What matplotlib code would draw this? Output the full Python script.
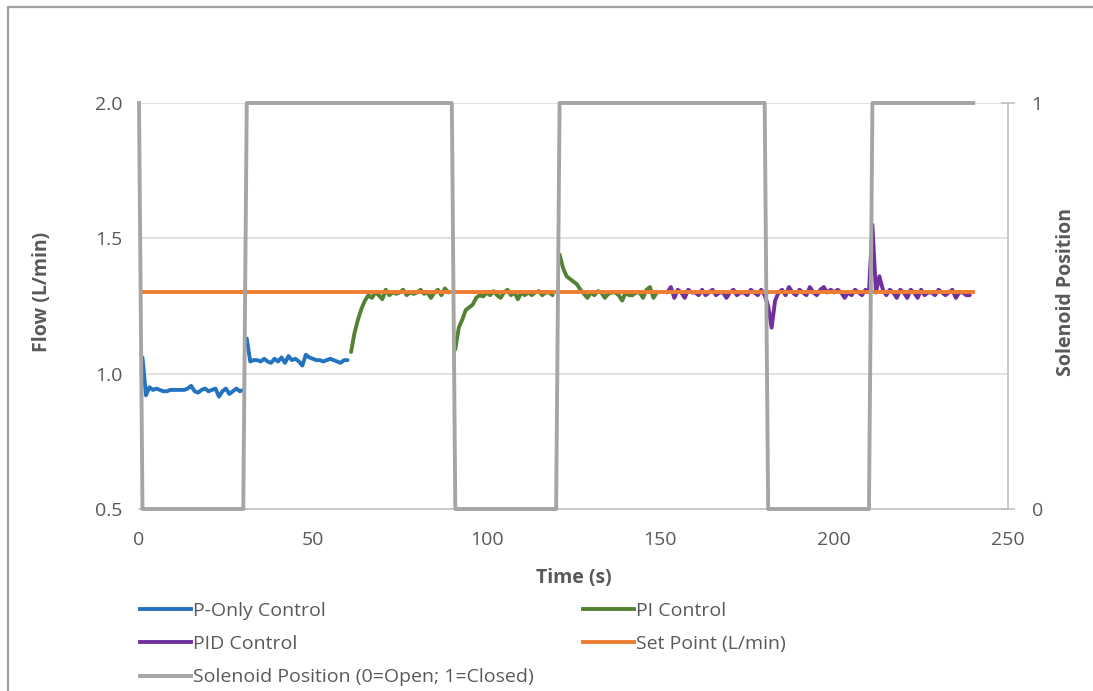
import numpy as np
import matplotlib
matplotlib.use("Agg")
import matplotlib.pyplot as plt
from matplotlib.lines import Line2D
from matplotlib.patches import Rectangle

plt.rcParams['font.family'] = ['Open Sans', 'DejaVu Sans']

# ---------------- data ----------------
p_time_1 = list(range(1, 31))
p_flow_1 = [1.06, 0.92, 0.95, 0.94, 0.945, 0.94, 0.935, 0.935, 0.94, 0.94,
            0.94, 0.94, 0.94, 0.945, 0.955, 0.935, 0.93, 0.94, 0.945, 0.935,
            0.94, 0.945, 0.915, 0.935, 0.945, 0.925, 0.935, 0.945, 0.935, 0.94]
p_time_2 = list(range(31, 61))
p_flow_2 = [1.13, 1.045, 1.05, 1.05, 1.045, 1.055, 1.045, 1.04, 1.055, 1.045,
            1.06, 1.04, 1.065, 1.05, 1.055, 1.045, 1.03, 1.07, 1.06, 1.055,
            1.05, 1.05, 1.045, 1.05, 1.055, 1.05, 1.045, 1.04, 1.05, 1.05]

pi_time_1 = list(range(61, 90))
pi_flow_1 = [1.08, 1.15, 1.20, 1.24, 1.27, 1.29, 1.28, 1.30, 1.29, 1.275,
             1.31, 1.29, 1.30, 1.295, 1.30, 1.31, 1.29, 1.30, 1.295, 1.30,
             1.31, 1.295, 1.30, 1.28, 1.30, 1.31, 1.29, 1.315, 1.30]
pi_time_2 = list(range(91, 120))
pi_flow_2 = [1.09, 1.17, 1.20, 1.235, 1.245, 1.255, 1.28, 1.29, 1.285, 1.30,
             1.29, 1.305, 1.29, 1.28, 1.30, 1.31, 1.29, 1.30, 1.275, 1.30,
             1.29, 1.30, 1.29, 1.30, 1.305, 1.29, 1.30, 1.30, 1.29]
pi_time_3 = list(range(121, 150))
pi_flow_3 = [1.44, 1.39, 1.36, 1.35, 1.34, 1.33, 1.31, 1.295, 1.28, 1.30,
             1.29, 1.305, 1.30, 1.28, 1.295, 1.30, 1.30, 1.29, 1.27, 1.30,
             1.29, 1.29, 1.30, 1.30, 1.28, 1.31, 1.32, 1.28, 1.30]

pid_time = list(range(152, 240))
pid_flow = [1.30, 1.32, 1.28, 1.31, 1.30, 1.28, 1.31, 1.30, 1.30, 1.29,
            1.31, 1.29, 1.30, 1.31, 1.29, 1.30, 1.30, 1.28, 1.30, 1.31,
            1.29, 1.30, 1.30, 1.29, 1.31, 1.30, 1.29, 1.31, 1.29, 1.25,
            1.17, 1.27, 1.30, 1.31, 1.29, 1.32, 1.30, 1.29, 1.31, 1.30,
            1.29, 1.32, 1.30, 1.29, 1.31, 1.32, 1.30, 1.31, 1.30, 1.31,
            1.30, 1.28, 1.30, 1.29, 1.31, 1.30, 1.29, 1.31, 1.30, 1.55,
            1.30, 1.36, 1.31, 1.29, 1.31, 1.30, 1.28, 1.31, 1.30, 1.28,
            1.31, 1.30, 1.28, 1.31, 1.29, 1.30, 1.30, 1.29, 1.31, 1.30,
            1.29, 1.30, 1.31, 1.28, 1.30, 1.30, 1.29, 1.29]

setpoint_time = [0, 240]
setpoint_flow = [1.3, 1.3]

solenoid_time = [0, 1, 30, 31, 90, 91, 120, 121, 180, 181, 210, 211, 240]
solenoid_pos = [1, 0, 0, 1, 1, 0, 0, 1, 1, 0, 0, 1, 1]

x_ticks = [0, 50, 100, 150, 200, 250]
y_ticks = [0.5, 1.0, 1.5, 2.0]
y2_ticks = [0, 1]

# ---------------- styling ----------------
C_BLUE = '#2473c0'
C_GREEN = '#548235'
C_PURPLE = '#7030a0'
C_ORANGE = '#ed7d31'
C_GRAY = '#a5a5a5'
TXT = '#595959'
LW = 2.8

W, H = 1093, 691
fig = plt.figure(figsize=(W / 100, H / 100), dpi=100)
ax = fig.add_axes([139 / W, 1 - 509 / H, 869 / W, 406 / H])

kw = dict(lw=LW, solid_joinstyle='round', solid_capstyle='round', zorder=3)
ax.plot(p_time_1, p_flow_1, color=C_BLUE, **kw)
ax.plot(p_time_2, p_flow_2, color=C_BLUE, **kw)
ax.plot(pi_time_1, pi_flow_1, color=C_GREEN, **kw)
ax.plot(pi_time_2, pi_flow_2, color=C_GREEN, **kw)
ax.plot(pi_time_3, pi_flow_3, color=C_GREEN, **kw)
ax.plot(pid_time, pid_flow, color=C_PURPLE, **kw)
ax.plot(setpoint_time, setpoint_flow, color=C_ORANGE, lw=LW, zorder=4)

ax.set_xlim(0, 250)
ax.set_ylim(0.5, 2.0)
ax.set_xticks(x_ticks)
ax.set_yticks(y_ticks)
ax.set_yticklabels([f'{v:.1f}' for v in y_ticks])
ax.grid(axis='y', color='#d9d9d9', lw=1.1)
ax.set_axisbelow(True)
for s in ['left', 'top', 'right']:
    ax.spines[s].set_visible(False)
ax.spines['bottom'].set_color('#bfbfbf')
ax.spines['bottom'].set_linewidth(1.1)
ax.tick_params(axis='both', length=0, labelsize=14, labelcolor=TXT)
ax.tick_params(axis='y', pad=12)
ax.tick_params(axis='x', pad=16)

ax2 = ax.twinx()
ax2.plot(solenoid_time, solenoid_pos, color=C_GRAY, lw=LW, zorder=5,
         clip_on=False)
ax2.set_ylim(0, 1)
ax2.set_yticks(y2_ticks)
for s in ['left', 'top', 'bottom']:
    ax2.spines[s].set_visible(False)
ax2.spines['right'].set_color('#bfbfbf')
ax2.spines['right'].set_linewidth(1.1)
ax2.tick_params(axis='y', direction='inout', length=10, width=1.1,
                color='#bfbfbf', labelsize=14, labelcolor=TXT, pad=12)

fig.text(574 / W, 1 - 578 / H, 'Time (s)', ha='center', va='center',
         fontsize=14, fontweight='bold', color=TXT)
fig.text(42 / W, 1 - 292 / H, 'Flow (L/min)', ha='center', va='center',
         rotation=90, fontsize=14, fontweight='bold', color=TXT)
fig.text(1066 / W, 1 - 292 / H, 'Solenoid Position', ha='center',
         va='center', rotation=90, fontsize=14, fontweight='bold', color=TXT)

# legend
def h(c):
    return Line2D([], [], color=c, lw=LW)

leg_kw = dict(loc='upper left', frameon=False, borderpad=0, borderaxespad=0,
              handlelength=2.6, handletextpad=0.15, labelspacing=0.78,
              fontsize=14, labelcolor=TXT)
leg1 = fig.legend([h(C_BLUE), h(C_PURPLE), h(C_GRAY)],
                  ['P-Only Control', 'PID Control',
                   'Solenoid Position (0=Open; 1=Closed)'],
                  bbox_to_anchor=(140 / W, 1 - 602 / H), **leg_kw)
leg2 = fig.legend([h(C_GREEN), h(C_ORANGE)],
                  ['PI Control', 'Set Point (L/min)'],
                  bbox_to_anchor=(583 / W, 1 - 602 / H), **leg_kw)

# outer chart border (cropped chart area)
fig.patches.append(Rectangle((8 / W, -0.05), 1.2, (1 - 7 / H) + 0.05,
                             transform=fig.transFigure, fill=False,
                             edgecolor='#a0a0a0', lw=1.6))

fig.savefig('out.png', dpi=100)
